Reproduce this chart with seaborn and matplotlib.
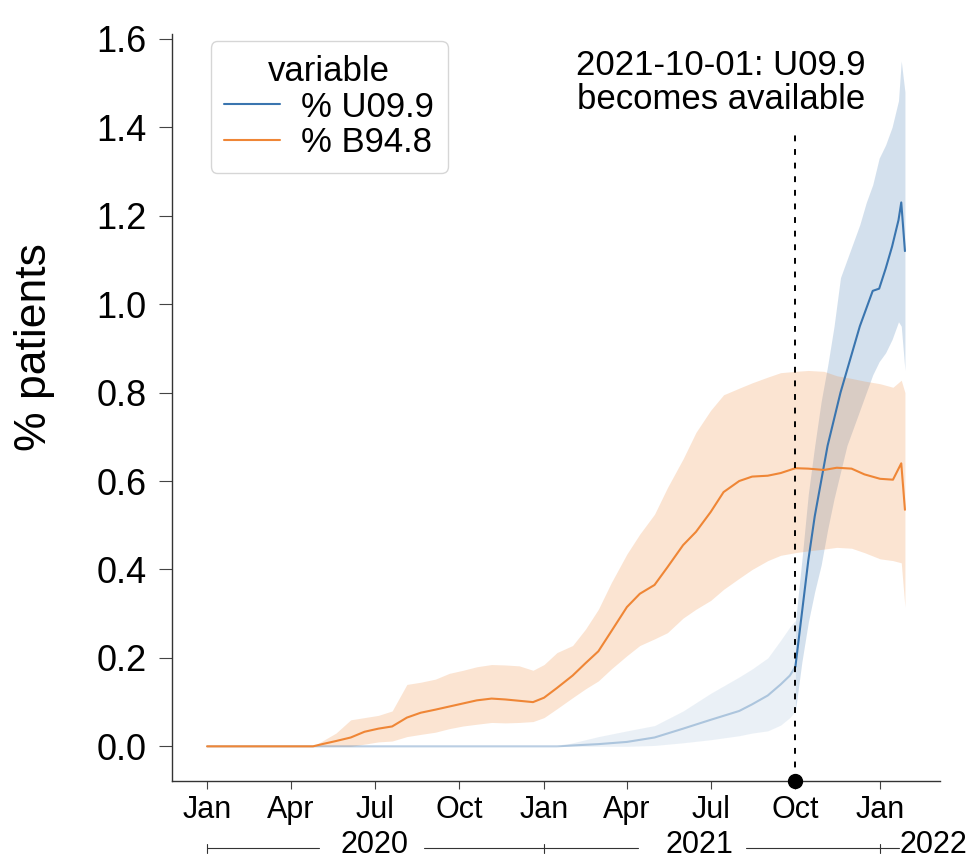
import numpy as np
import pandas as pd
import matplotlib.pyplot as plt
import matplotlib.dates as mdates
import matplotlib.transforms as mtransforms
import seaborn as sns

# % B94.8 (orange): dates, median line and band limits
b948_dates = ['2020-01-01', '2020-04-25', '2020-05-05', '2020-05-20', '2020-06-05',
              '2020-06-20', '2020-07-05', '2020-07-20', '2020-08-05', '2020-08-20',
              '2020-09-05', '2020-09-20', '2020-10-05', '2020-10-20', '2020-11-05',
              '2020-11-20', '2020-12-05', '2020-12-20', '2021-01-01', '2021-01-15',
              '2021-02-01', '2021-02-15', '2021-03-01', '2021-03-15', '2021-04-01',
              '2021-04-15', '2021-05-01', '2021-05-15', '2021-06-01', '2021-06-15',
              '2021-07-01', '2021-07-15', '2021-08-01', '2021-08-15', '2021-09-01',
              '2021-09-15', '2021-10-01', '2021-10-15', '2021-11-01', '2021-11-15',
              '2021-12-01', '2021-12-15', '2022-01-01', '2022-01-15', '2022-01-24',
              '2022-01-28']
b948_mid = [0.0, 0.0, 0.005, 0.012, 0.02, 0.033, 0.04, 0.045, 0.065, 0.076,
            0.083, 0.09, 0.097, 0.104, 0.108, 0.106, 0.103, 0.1, 0.11, 0.132,
            0.16, 0.188, 0.215, 0.26, 0.315, 0.345, 0.365, 0.405, 0.455, 0.485,
            0.53, 0.575, 0.6, 0.61, 0.612, 0.618, 0.629, 0.628, 0.625, 0.63,
            0.628, 0.615, 0.605, 0.603, 0.64, 0.535]
b948_lo = [0.0, 0.0, 0.0, 0.0, 0.0, 0.005, 0.01, 0.012, 0.022, 0.027,
           0.032, 0.04, 0.046, 0.05, 0.054, 0.053, 0.054, 0.056, 0.065, 0.085,
           0.11, 0.13, 0.148, 0.175, 0.205, 0.228, 0.243, 0.257, 0.29, 0.31,
           0.33, 0.355, 0.38, 0.4, 0.42, 0.432, 0.438, 0.442, 0.446, 0.45,
           0.448, 0.438, 0.424, 0.42, 0.415, 0.315]
b948_hi = [0.0, 0.0, 0.012, 0.03, 0.06, 0.065, 0.07, 0.08, 0.14, 0.145,
           0.152, 0.165, 0.172, 0.18, 0.185, 0.184, 0.182, 0.172, 0.185, 0.212,
           0.228, 0.265, 0.31, 0.37, 0.435, 0.48, 0.525, 0.585, 0.65, 0.71,
           0.76, 0.795, 0.81, 0.822, 0.835, 0.845, 0.848, 0.85, 0.848, 0.838,
           0.832, 0.826, 0.82, 0.812, 0.828, 0.8]

# % U09.9 (blue) before the code became available
u099_pre_dates = ['2020-01-01', '2021-01-15', '2021-02-01', '2021-03-01', '2021-04-01',
                  '2021-05-01', '2021-06-01', '2021-07-01', '2021-08-01', '2021-08-15',
                  '2021-09-01', '2021-09-15', '2021-09-25', '2021-10-01']
u099_pre_mid = [0.0, 0.0, 0.002, 0.005, 0.01, 0.02, 0.04, 0.06, 0.08, 0.095,
                0.115, 0.14, 0.16, 0.18]
u099_pre_lo = [0.0, 0.0, 0.0, 0.0, 0.0, 0.002, 0.008, 0.015, 0.024, 0.03,
               0.035, 0.048, 0.065, 0.08]
u099_pre_hi = [0.0, 0.0, 0.008, 0.022, 0.035, 0.047, 0.08, 0.12, 0.157, 0.175,
               0.2, 0.24, 0.27, 0.285]

# % U09.9 (blue) from 2021-10-01
u099_dates = ['2021-10-01', '2021-10-08', '2021-10-15', '2021-10-22', '2021-10-29',
              '2021-11-05', '2021-11-12', '2021-11-19', '2021-11-26', '2021-12-03',
              '2021-12-10', '2021-12-17', '2021-12-24', '2021-12-31', '2022-01-07',
              '2022-01-14', '2022-01-21', '2022-01-24', '2022-01-28']
u099_mid = [0.18, 0.3, 0.42, 0.52, 0.6, 0.68, 0.74, 0.8, 0.85, 0.9,
            0.95, 0.99, 1.03, 1.035, 1.08, 1.13, 1.19, 1.23, 1.12]
u099_lo = [0.08, 0.19, 0.28, 0.35, 0.41, 0.49, 0.56, 0.62, 0.68, 0.72,
           0.76, 0.8, 0.84, 0.87, 0.89, 0.92, 0.96, 0.95, 0.85]
u099_hi = [0.28, 0.42, 0.57, 0.68, 0.78, 0.86, 0.95, 1.06, 1.1, 1.14,
           1.18, 1.23, 1.27, 1.33, 1.36, 1.4, 1.46, 1.55, 1.48]

# year labels under the month ticks
years = ['2020', '2021', '2022']
year_label_dates = ['2020-07-01', '2021-06-19', '2022-02-28']
year_ticks = ['2020-01-01', '2021-01-01', '2022-01-01']
bracket_segments = [('2020-01-01', '2020-05-01'), ('2020-08-24', '2021-04-13'),
                    ('2021-08-08', '2022-01-22')]

colors = {'% U09.9': '#3a75af', '% B94.8': '#ef8636'}


def long_frame(dates, lo, mid, hi, name):
    d = pd.to_datetime(dates)
    parts = [pd.DataFrame({'date': d, 'value': v}) for v in (lo, mid, hi)]
    df = pd.concat(parts, ignore_index=True)
    df['variable'] = name
    return df


def minmax(v):
    return (v.min(), v.max())


main = pd.concat([long_frame(u099_dates, u099_lo, u099_mid, u099_hi, '% U09.9'),
                  long_frame(b948_dates, b948_lo, b948_mid, b948_hi, '% B94.8')],
                 ignore_index=True)
pre = long_frame(u099_pre_dates, u099_pre_lo, u099_pre_mid, u099_pre_hi, '% U09.9')

sns.set_style('ticks')
plt.rcParams['font.family'] = ['Liberation Sans', 'DejaVu Sans']
plt.rcParams.update({'text.color': 'black', 'axes.labelcolor': 'black',
                     'xtick.labelcolor': 'black', 'ytick.labelcolor': 'black',
                     'xtick.color': '#444444', 'ytick.color': '#444444'})

fig = plt.figure(figsize=(9.67, 8.59), dpi=100)
ax = fig.add_axes([0.178, 0.091, 0.794, 0.870])

sns.lineplot(data=pre, x='date', y='value', color=colors['% U09.9'],
             estimator='median', errorbar=minmax, alpha=0.35,
             err_kws={'alpha': 0.1, 'linewidth': 0}, linewidth=1.5,
             legend=False, ax=ax)
sns.lineplot(data=main, x='date', y='value', hue='variable',
             hue_order=['% U09.9', '% B94.8'], palette=colors,
             estimator='median', errorbar=minmax,
             err_kws={'alpha': 0.22, 'linewidth': 0}, linewidth=1.5, ax=ax)

cut = pd.Timestamp('2021-10-01')
ax.set_ylim(-0.078, 1.612)
ax.set_xlim(pd.Timestamp('2019-11-24'), pd.Timestamp('2022-03-07'))
ax.plot([cut, cut], [-0.078, 1.386], color='black', linestyle=(0, (3, 4)),
        linewidth=1.4, zorder=5)
ax.plot([cut], [-0.078], 'o', color='black', markersize=10, clip_on=False, zorder=6)
ax.text(pd.Timestamp('2021-07-12'), 1.425, '2021-10-01: U09.9\nbecomes available',
        ha='center', va='bottom', fontsize=25, linespacing=1.05)

ax.xaxis.set_major_locator(mdates.MonthLocator(bymonth=[1, 4, 7, 10]))
ax.xaxis.set_major_formatter(mdates.DateFormatter('%b'))
ax.set_yticks(np.arange(0, 1.61, 0.2))
ax.yaxis.set_major_formatter(plt.FormatStrFormatter('%.1f'))
ax.tick_params(axis='y', labelsize=26, length=9.5, width=0.8, pad=9)
ax.tick_params(axis='x', labelsize=22, length=6, width=0.8, pad=4)
ax.set_xlabel('')
ax.set_ylabel('% patients', fontsize=32)
ax.yaxis.set_label_coords(-0.153, 0.58)
sns.despine(ax=ax)
for s in ['left', 'bottom']:
    ax.spines[s].set_color('#333333')
    ax.spines[s].set_linewidth(1.0)

# year brackets below the month labels
trans = mtransforms.blended_transform_factory(ax.transData, ax.transAxes)
yb = -0.09
for s, e in bracket_segments:
    ax.plot([pd.Timestamp(s), pd.Timestamp(e)], [yb, yb], color='#333333',
            linewidth=0.8, transform=trans, clip_on=False)
for t in year_ticks:
    t = pd.Timestamp(t)
    ax.plot([t, t], [yb - 0.006, yb + 0.006], color='#333333', linewidth=0.8,
            transform=trans, clip_on=False)
for yr, m in zip(years, year_label_dates):
    ax.text(pd.Timestamp(m), yb + 0.004, yr, transform=trans, ha='center',
            va='center', fontsize=22)

leg = ax.legend(title='variable', loc='upper left', bbox_to_anchor=(0.05, 0.99),
                borderaxespad=0, fontsize=25, title_fontsize=25,
                handlelength=1.6, handletextpad=0.6, labelspacing=0.08,
                frameon=True)
leg.get_frame().set_edgecolor('#cccccc')

fig.savefig('out.png', dpi=100)
